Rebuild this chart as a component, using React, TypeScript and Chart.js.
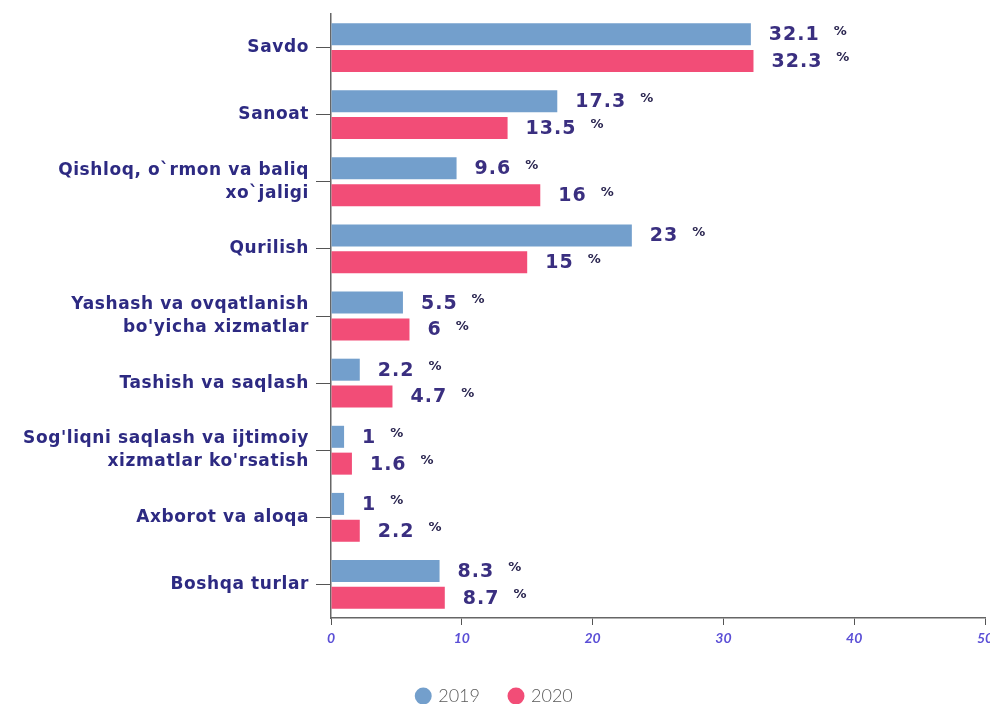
import React, { useEffect, useRef } from "react";
import { Chart, registerables } from "chart.js";

Chart.register(...registerables);

const categories: (string | string[])[] = [
  "Savdo",
  "Sanoat",
  ["Qishloq, o`rmon va baliq", "xo`jaligi"],
  "Qurilish",
  ["Yashash va ovqatlanish", "bo'yicha xizmatlar"],
  "Tashish va saqlash",
  ["Sog'liqni saqlash va ijtimoiy", "xizmatlar ko'rsatish"],
  "Axborot va aloqa",
  "Boshqa turlar",
];
const values2019 = [32.1, 17.3, 9.6, 23, 5.5, 2.2, 1, 1, 8.3];
const values2020 = [32.3, 13.5, 16, 15, 6, 4.7, 1.6, 2.2, 8.7];
const seriesNames = ["2019", "2020"];
const xTicks = [0, 10, 20, 30, 40, 50];

const labelPlugin = {
  id: "valueLabels",
  afterDatasetsDraw(chart: any) {
    const ctx = chart.ctx;
    ctx.save();
    chart.data.datasets.forEach((ds: any, di: number) => {
      const meta = chart.getDatasetMeta(di);
      meta.data.forEach((bar: any, i: number) => {
        const v = ds.data[i];
        const txt = String(v);
        ctx.letterSpacing = "1px";
        ctx.font = "bold 19px 'DejaVu Sans'";
        ctx.fillStyle = "#3a2f80";
        ctx.textBaseline = "middle";
        ctx.textAlign = "left";
        const x = bar.x + 18;
        ctx.fillText(txt, x, bar.y + 1);
        const w = ctx.measureText(txt).width;
        ctx.letterSpacing = "0px";
        ctx.font = "bold 13px 'DejaVu Sans'";
        ctx.fillStyle = "#2a2550";
        ctx.fillText("%", x + w + 14, bar.y - 3);
      });
    });
    ctx.restore();
  },
};

function spaced(scale: any, spacing: string) {
  if (scale.__spaced) return;
  scale.__spaced = true;
  const orig = scale.drawLabels.bind(scale);
  scale.drawLabels = (area: any) => {
    const ctx = scale.ctx;
    const prev = ctx.letterSpacing;
    ctx.letterSpacing = spacing;
    orig(area);
    ctx.letterSpacing = prev;
  };
}

export default function App() {
  const ref = useRef<HTMLCanvasElement>(null);
  useEffect(() => {
    document.body.style.margin = "0";
    const chart = new Chart(ref.current!, {
      type: "bar",
      data: {
        labels: categories,
        datasets: [
          {
            label: seriesNames[0],
            data: values2019,
            backgroundColor: "#739fcc",
            categoryPercentage: 0.8,
            barPercentage: 0.82,
          },
          {
            label: seriesNames[1],
            data: values2020,
            backgroundColor: "#f24d77",
            categoryPercentage: 0.8,
            barPercentage: 0.82,
          },
        ],
      },
      options: {
        indexAxis: "y",
        animation: false,
        responsive: false,
        maintainAspectRatio: false,
        layout: { padding: { top: 14, right: 0, left: 0, bottom: -11 } },
        plugins: {
          legend: {
            position: "bottom",
            labels: {
              usePointStyle: true,
              pointStyle: "circle",
              boxWidth: 12,
              boxHeight: 12,
              padding: 30,
              color: "#5a5a5a",
              font: { family: "Lato", size: 18, weight: "300" },
            },
          },
          tooltip: { enabled: false },
        },
        scales: {
          x: {
            min: 0,
            max: 50,
            afterBuildTicks: (scale: any) => {
              scale.ticks = xTicks.map((v) => ({ value: v }));
            },
            grid: {
              drawOnChartArea: false,
              color: "#555",
              tickLength: 7,
            },
            border: { color: "#666", width: 1.5 },
            ticks: {
              color: "#5b4fd6",
              padding: 5,
              font: { family: "Lato", size: 14, style: "italic", weight: "bold" },
            },
            afterFit: (scale: any) => {
              scale.height = 39;
              scale.paddingRight = 5;
            },
          },
          y: {
            grid: {
              drawOnChartArea: false,
              color: "#555",
              tickLength: 15,
              offset: false,
            },
            border: { color: "#666", width: 1.5 },
            ticks: {
              color: "#2d2a82",
              padding: 7,
              font: { family: "DejaVu Sans", size: 17, weight: "bold", lineHeight: 1.35 },
            },
            afterFit: (scale: any) => {
              scale.width = 331;
              scale.paddingTop = 0;
              scale.paddingBottom = 0;
              spaced(scale, "0.6px");
            },
          },
        },
      },
      plugins: [labelPlugin],
    } as any);
    return () => chart.destroy();
  }, []);
  return (
    <div style={{ position: "absolute", left: 0, top: 0, width: 990, height: 704 }}>
      <canvas ref={ref} width={990} height={704} style={{ width: 990, height: 704 }} />
    </div>
  );
}
